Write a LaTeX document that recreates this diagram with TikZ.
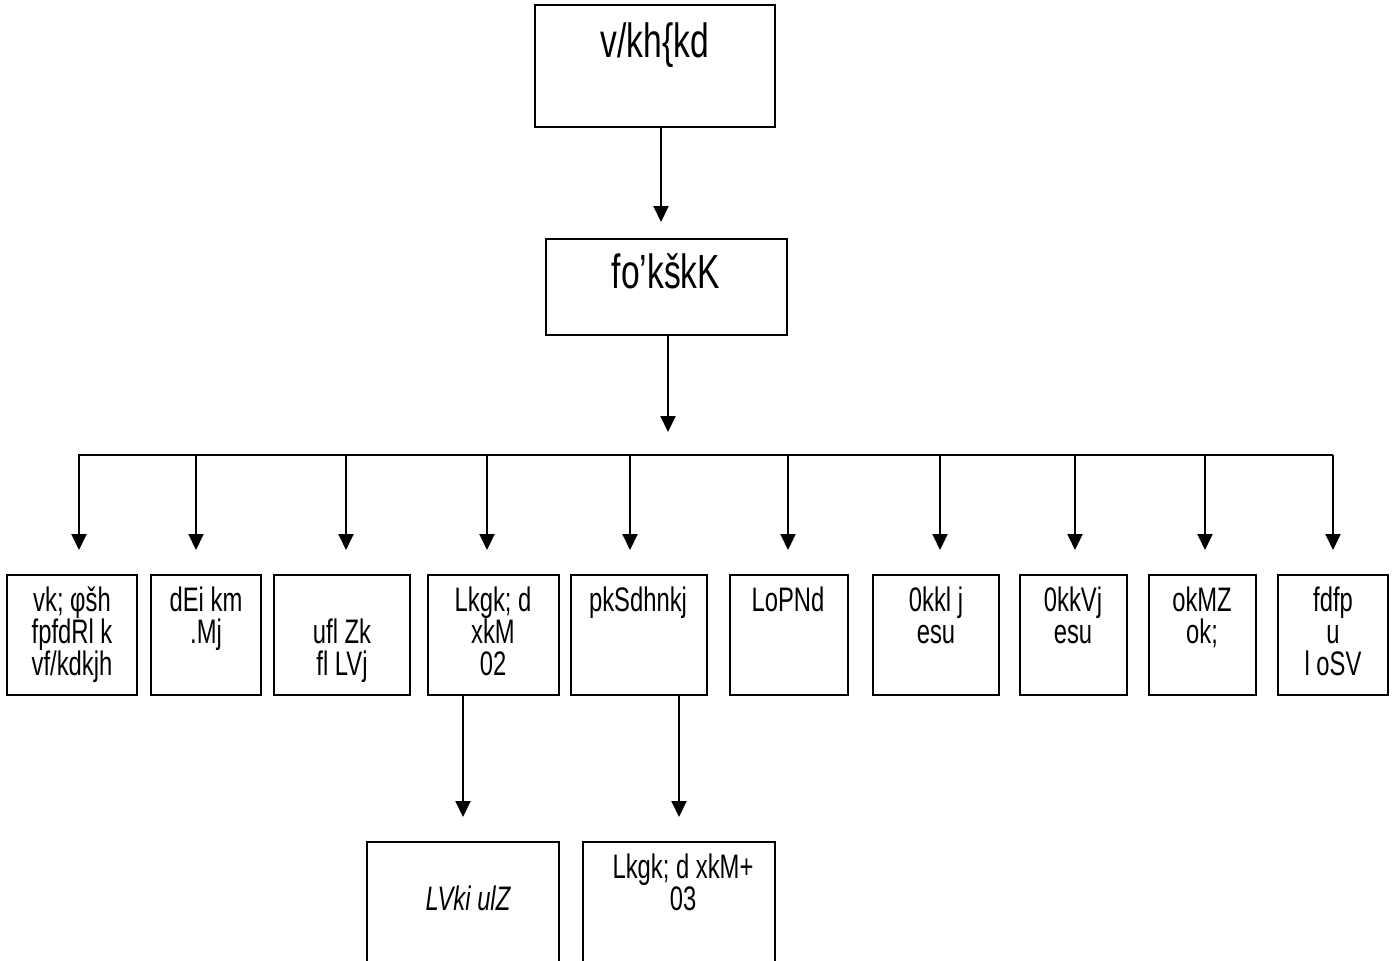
\documentclass[tikz,border=0pt]{standalone}
\usepackage{fontspec}
\setmainfont[FakeStretch=0.7]{Liberation Sans}
\usetikzlibrary{arrows.meta,fit}
\begin{document}
\begin{tikzpicture}[x=0.5pt,y=-0.5pt,
  box/.style={draw,line width=0.8pt,inner sep=0pt},
  arr/.style={line width=1pt,-{Triangle[width=7.5pt,length=8pt]}},
  conn/.style={line width=1pt},
  lbl/.style={inner sep=0pt,anchor=base,align=center,font=\fontsize{17}{15.9}\selectfont},
  big/.style={inner sep=0pt,anchor=base,font=\fontsize{24}{26}\selectfont}]
\useasboundingbox (0,0) rectangle (1395,960);
\fill[white] (0,0) rectangle (1395,960);
% boxes
\node[box,fit={(535,5) (775,127)}] (top) {};
\node[box,fit={(546,239) (787,335)}] (mid) {};
\node[box,fit={(7,575) (137,695)}] (b1) {};
\node[box,fit={(151,575) (261,695)}] (b2) {};
\node[box,fit={(274,575) (410,695)}] (b3) {};
\node[box,fit={(428,575) (559,695)}] (b4) {};
\node[box,fit={(571,575) (707,695)}] (b5) {};
\node[box,fit={(730,575) (848,695)}] (b6) {};
\node[box,fit={(873,575) (999,695)}] (b7) {};
\node[box,fit={(1020,575) (1127,695)}] (b8) {};
\node[box,fit={(1149,575) (1256,695)}] (b9) {};
\node[box,fit={(1278,575) (1388,695)}] (b10) {};
\node[box,fit={(367,842) (559,975)}] (c1) {};
\node[box,fit={(583,842) (775,975)}] (c2) {};
% texts (base anchor = baseline of last line)
\node[big] (ttop) at (655,57) {v/kh\{kd};
\node[big] (tmid) at (666,288) {fo’kškK};
\node[lbl] (t1) at (72,675) {vk; φšh\\fpfdRl k\\vf/kdkjh};
\node[lbl] (t2) at (206,643) {dEi km\\.Mj};
\node[lbl] (t3) at (342,675) {ufl Zk\\fl LVj};
\node[lbl] (t4) at (493,675) {Lkgk; d\\xkM\\02};
\node[lbl] (t5) at (638,611) {pkSdhnkj};
\node[lbl] (t6) at (788,611) {LoPNd};
\node[lbl] (t7) at (936,643) {0kkl j\\esu};
\node[lbl] (t8) at (1073,643) {0kkVj\\esu};
\node[lbl] (t9) at (1202,643) {okMZ\\ok;};
\node[lbl] (t10) at (1333,675) {fdfp\\u\\l oSV};
\node[lbl,font=\fontsize{17}{15.9}\selectfont\itshape] (tc1) at (468,910) {LVki ulZ};
\node[lbl] (tc2) at (683,910) {Lkgk; d xkM+\\03};
% arrow end points
\coordinate (a0) at (661,222);
\coordinate (a1) at (668,432);
\coordinate (barL) at (78,455);
\coordinate (barR) at (1333,455);
\coordinate (d1) at (463,817);
\coordinate (d2) at (679,817);
% connectors
\draw[arr] (top.south -| a0) -- (a0);
\draw[arr] (mid.south -| a1) -- (a1);
\draw[conn] (barL) -- (barR);
\foreach \x in {79,196,346,487,630,788,940,1075,1205,1333}{
  \draw[arr] (\x,455) -- (\x,550);
}
\draw[arr] (b4.south -| d1) -- (d1);
\draw[arr] (b5.south -| d2) -- (d2);
\end{tikzpicture}
\end{document}
